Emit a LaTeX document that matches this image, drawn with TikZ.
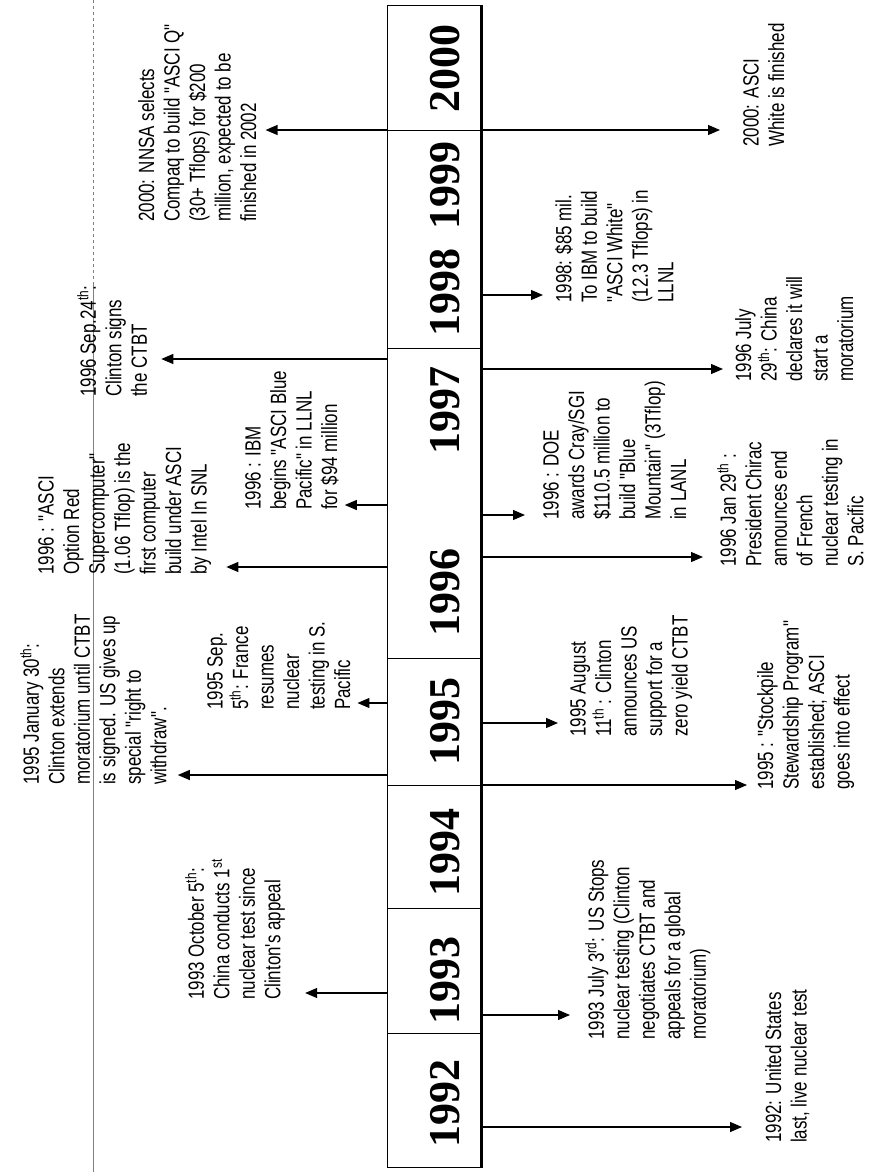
\documentclass[tikz,border=0pt]{standalone}
\usepackage{fontspec}
\usetikzlibrary{arrows.meta}
\newfontfamily\evfont{Liberation Sans}[FakeStretch=0.77]
\newfontfamily\yrfont{Liberation Serif}
\tikzset{
  ev/.style={rotate=90, anchor=north west, inner sep=0pt, align=left,
    font=\evfont\fontsize{22}{25.5}\selectfont},
  yr/.style={rotate=90, inner sep=0pt, font=\yrfont\bfseries\fontsize{44}{44}\selectfont},
  evarrow/.style={-{Triangle[length=12pt,width=10pt]}, line width=1.2pt}
}

\begin{document}
\begin{tikzpicture}[x=1pt,y=-1pt]
\useasboundingbox (0,0) rectangle (869,1172);
% page edge
\draw[gray, dashed] (93,0) -- (93,282);
\draw[gray] (93,282) -- (93,1172);

% time bar
\node[draw, line width=1pt, minimum width=93pt, minimum height=1162pt, inner sep=0pt, anchor=north west] (bar) at (387,5) {};
\draw[line width=3pt] (bar.north east) -- (bar.south east);
\foreach \y in {130,348,658,785,908,1033}
  \draw[line width=1pt] (bar.west |- 0,\y) -- (bar.east |- 0,\y);
\foreach \yr/\y in {2000/68,1999/185,1998/292,1997/410,1996/592,1995/721,1994/852,1993/980,1992/1103}
  \node[yr] (y\yr) at (445,\y) {\yr};

% left side
\node[ev] (nnsa) at (138,222) {2000: NNSA selects\\Compaq to build "ASCI Q"\\(30+ Tflops) for \$200\\million, expected to be\\finished in 2002};
\node[ev] (ctbt) at (77,397) {1996 Sep.24\textsuperscript{th}:\\Clinton signs\\the CTBT};
\node[ev] (redop) at (38,575) {1996 : "ASCI\\Option Red\\Supercomputer"\\(1.06 Tflop) is the\\first computer\\build under ASCI\\by Intel In SNL};
\node[ev] (bluepac) at (245,510) {1996 : IBM\\begins "ASCI Blue\\Pacific" in LLNL\\for \$94 million};
\node[ev] (morat) at (20,785) {1995 January 30\textsuperscript{th}:\\Clinton extends\\moratorium until CTBT\\is signed. US gives up\\special "right to\\withdraw".};
\node[ev] (france) at (207,710) {1995 Sep.\\5\textsuperscript{th}: France\\resumes\\nuclear\\testing in S.\\Pacific};
\node[ev] (china93) at (185,1000) {1993 October 5\textsuperscript{th}:\\China conducts 1\textsuperscript{st}\\nuclear test since\\Clinton's appeal};

% right side
\node[ev] (whitedone) at (743,147) {2000: ASCI\\White is finished};
\node[ev] (white98) at (555,303) {1998: \$85 mil.\\To IBM to build\\"ASCI White"\\(12.3 Tflops) in\\LLNL};
\node[ev] (china96) at (735,382) {1996 July\\29\textsuperscript{th}: China\\declares it will\\start a\\moratorium};
\node[ev] (doe) at (543,520) {1996 : DOE\\awards Cray/SGI\\\$110.5 million to\\build "Blue\\Mountain" (3Tflop)\\in LANL};
\node[ev] (chirac) at (717,567) {1996 Jan 29\textsuperscript{th} :\\President Chirac\\announces end\\of French\\nuclear testing in\\S. Pacific};
\node[ev] (aug95) at (570,737) {1995 August\\11\textsuperscript{th} : Clinton\\announces US\\support for a\\zero yield CTBT};
\node[ev] (stockpile) at (757,790) {1995 : "Stockpile\\Stewardship Program"\\established; ASCI\\goes into effect};
\node[ev] (usstop) at (585,1040) {1993 July 3\textsuperscript{rd}: US Stops\\nuclear testing (Clinton\\negotiates CTBT and\\appeals for a global\\moratorium)};
\node[ev] (last92) at (765,1143) {1992: United States\\last, live nuclear test};

% arrows
\foreach \n/\y/\g in {nnsa/130/9, ctbt/359/14, redop/567/15, bluepac/505/6, morat/775/11, france/703/7, china93/993/20}
  \draw[evarrow, shorten >=\g pt] (bar.west |- 0,\y) -- (\n.south |- 0,\y);
\foreach \n/\y/\g in {whitedone/130/23, white98/295/12, china96/369/12, doe/515/18, chirac/557/14, aug95/723/12, stockpile/785/10, usstop/1015/15, last92/1127/23}
  \draw[evarrow, shorten >=\g pt] (bar.east |- 0,\y) -- (\n.north |- 0,\y);
\end{tikzpicture}
\end{document}
